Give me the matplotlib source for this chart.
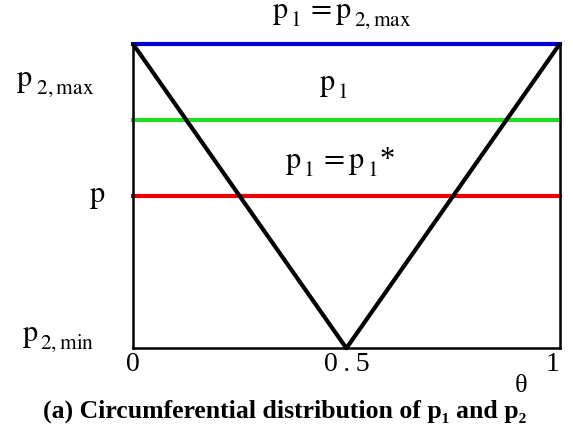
import matplotlib.pyplot as plt
import matplotlib._mathtext as mt

plt.rcParams['font.family'] = ['Liberation Serif', 'DejaVu Serif']
plt.rcParams['mathtext.fontset'] = 'stix'
# drop subscripts a bit lower than the default
mt.STIXFontConstants.sub1 = 0.6

# p2 varies linearly around the circumference, p1 levels are constant
theta = [0.0, 0.5, 1.0]
p2 = [1.0, 0.0, 1.0]
p1_levels = [1.0, 0.75, 0.5]
p1_colors = ['#0000cc', '#22dd22', '#ee0000']
p1_labels = [r'$\mathrm{p}_{\,1}\, =\mathrm{p}_{\,2,\mathrm{max}}$',
             r'$\mathrm{p}_{\,1}$',
             r'$\mathrm{p}_{\,1}\, =\mathrm{p}_{\,1}$*']
x_ticks = [0, 0.5, 1]
x_ticklabels = ['0', '0\u2009.\u20095', '1']

fig = plt.figure(figsize=(5.73, 4.43), dpi=100)
ax = fig.add_axes([0.232, 0.214, 0.745, 0.687])

ax.plot(theta, p2, color='black', lw=3, solid_capstyle='butt', zorder=3,
        clip_on=False)
for lvl, c in zip(p1_levels, p1_colors):
    ax.axhline(lvl, color=c, lw=3, zorder=2, clip_on=False)

ax.text(0.49, 1.09, p1_labels[0], fontsize=22, ha='center', va='center')
ax.text(0.47, 0.86, p1_labels[1], fontsize=22, ha='center', va='center')
ax.text(0.485, 0.61, p1_labels[2], fontsize=22, ha='center', va='center')

# left side labels
ax.text(-0.09, 0.865, r'$\mathrm{p}_{\ 2,\mathrm{max}}$', fontsize=22,
        ha='right', va='center')
ax.text(-0.065, 0.5, r'$\mathrm{p}$', fontsize=22, ha='right', va='center')
ax.text(-0.09, 0.03, r'$\mathrm{p}_{\,2,\mathrm{min}}$', fontsize=22,
        ha='right', va='center')

ax.text(0.91, -0.125, '\u03b8', fontsize=19, ha='center', va='center')

ax.set_xlim(0, 1)
ax.set_ylim(0, 1)
ax.set_xticks(x_ticks)
ax.set_xticklabels(x_ticklabels, fontsize=20)
ax.tick_params(axis='x', length=0, pad=3)
ax.set_yticks([])
ax.get_xticklabels()[2].set_ha('right')
ax.spines['top'].set_visible(False)
for s in ['left', 'right', 'bottom']:
    ax.spines[s].set_linewidth(1.8)

fig.text(0.497, 0.072, '(a) Circumferential distribution of p\u2081 and p\u2082',
         fontsize=18.5, fontweight='bold', ha='center', va='center')

fig.savefig('out.png', dpi=100)
